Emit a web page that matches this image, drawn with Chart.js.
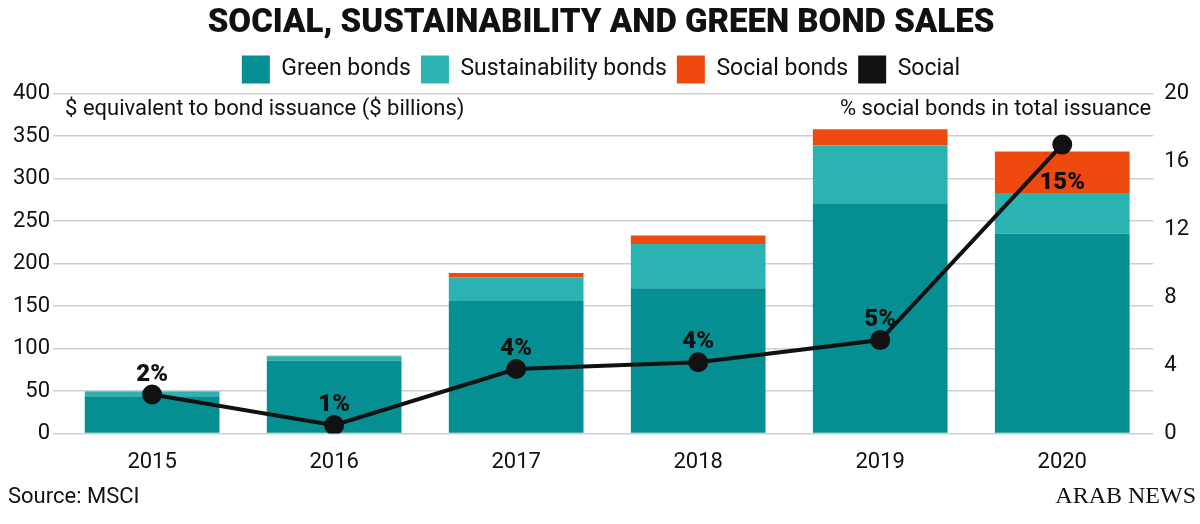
<!DOCTYPE html>
<html><head><meta charset="utf-8">
<script src="https://cdn.jsdelivr.net/npm/chart.js@4/dist/chart.umd.min.js"></script>
<style>html,body{margin:0;padding:0;background:#fff}#w{width:1200px;height:524px;position:relative}</style>
</head><body><div id="w"><canvas id="c"></canvas></div>
<script>
const years=['2015','2016','2017','2018','2019','2020'];
const socialBonds=[0.5,0.5,5,10,19,49];
const sustainabilityBonds=[5,5,28,52,68,48];
const greenBonds=[44,86,156,171,271,235];
const socialPct=[2.3,0.5,3.8,4.2,5.5,17.0];
const socialPctLabels=['2%','1%','4%','4%','5%','15%'];
const labelBelow=[false,false,false,false,false,true];

const extras={id:'extras',afterDatasetsDraw(ch){
  const c=ch.ctx,a=ch.chartArea;
  c.save();
  c.fillStyle='#111';c.font='400 22px Roboto';c.textBaseline='middle';
  c.textAlign='left';c.fillText('$ equivalent to bond issuance ($ billions)',a.left+4,109);
  c.textAlign='right';c.fillText('% social bonds in total issuance',a.right-2,109);
  c.textAlign='left';c.fillText('Source: MSCI',8,497);
  c.textAlign='right';c.font='400 24px "Liberation Serif"';c.fillText('ARAB NEWS',1196,497);
  const meta=ch.getDatasetMeta(3);
  c.font='900 24px Roboto';c.textAlign='center';
  meta.data.forEach((p,i)=>{c.fillText(socialPctLabels[i],p.x,labelBelow[i]?p.y+38:p.y-20);});
  c.restore();
}};
new Chart(document.getElementById('c'),{
 data:{labels:years,datasets:[
  {type:'bar',label:'Social bonds',data:socialBonds,backgroundColor:'#ee4a0f',order:4,yAxisID:'y',stack:'s'},
  {type:'bar',label:'Sustainability bonds',data:sustainabilityBonds,backgroundColor:'#2bb3b1',order:3,yAxisID:'y',stack:'s'},
  {type:'bar',label:'Green bonds',data:greenBonds,backgroundColor:'#068f92',order:2,yAxisID:'y',stack:'s'},
  {type:'line',label:'Social',data:socialPct,borderColor:'#111',backgroundColor:'#111',borderWidth:4,pointRadius:8,pointBackgroundColor:'#111',order:0,yAxisID:'y1'}
 ]},
 options:{responsive:true,maintainAspectRatio:false,animation:false,
  layout:{padding:{left:10,right:8,top:0,bottom:40}},
  datasets:{bar:{barPercentage:0.74,categoryPercentage:1}},
  plugins:{
   title:{display:true,text:'SOCIAL, SUSTAINABILITY AND GREEN BOND SALES',color:'#111',font:{family:'Roboto',size:33,weight:'900'},padding:{top:4,bottom:2}},
   legend:{display:true,labels:{color:'#111',font:{family:'Roboto',size:23},boxWidth:28,boxHeight:28,padding:10,
     generateLabels(ch){const cols=['#068f92','#2bb3b1','#ee4a0f','#111'];return ['Green bonds','Sustainability bonds','Social bonds','Social'].map((t,i)=>({text:t,fillStyle:cols[i],strokeStyle:cols[i],lineWidth:0,datasetIndex:i,fontColor:'#111'}));}}},
   tooltip:{enabled:false}},
  scales:{
   x:{stacked:true,grid:{display:false},border:{display:false},ticks:{color:'#111',font:{family:'Roboto',size:22},padding:8}},
   y:{stacked:true,min:0,max:400,ticks:{stepSize:50,color:'#111',font:{family:'Roboto',size:22}},grid:{color:'#cfcfcf',lineWidth:1.5},border:{display:false}},
   y1:{position:'right',min:0,max:20,ticks:{stepSize:4,color:'#111',font:{family:'Roboto',size:22}},grid:{display:false},border:{display:false}}
  }},
 plugins:[extras]
});
</script></body></html>
